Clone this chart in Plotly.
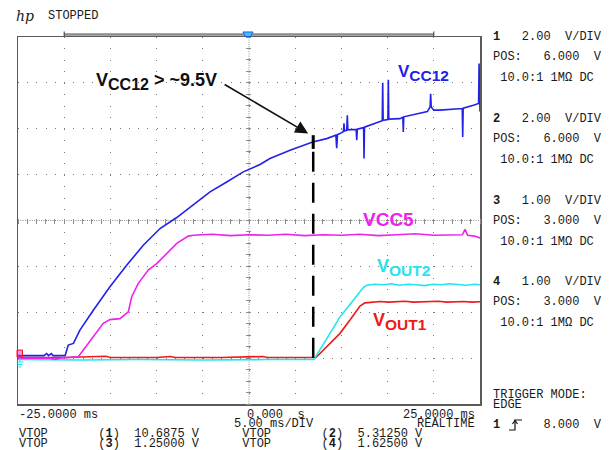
import plotly.graph_objects as go

# ---------------- data (time in ms, values in volts) ----------------
# Channel 1 : VCC12  (2 V/div, POS 6 V)
vcc12_t = [-25.0, -22.2, -21.9, -21.7, -21.4, -21.2, -20.8, -19.9, -19.56, -19.0,
           -18.3, -16.85, -15.05, -13.24, -11.44, -9.63, -7.82, -6.03, -4.22, -2.41,
           -0.62, 1.19, 2.27, 4.44, 6.89, 8.41, 9.40, 9.49, 9.58, 9.85,
           10.22, 10.28, 10.34, 10.58, 10.64, 10.70, 11.20, 11.60, 11.66, 11.72,
           12.40, 12.45, 12.50, 13.45, 14.42, 14.47, 14.52, 15.03, 15.08, 15.13,
           16.34, 16.65, 16.70, 16.75, 18.51, 19.30, 19.60, 19.66, 19.72, 20.00,
           20.67, 22.48, 23.08, 23.13, 23.18, 24.28, 24.85, 24.90, 25.0]
vcc12_v = [0.11, 0.11, 0.2, 0.11, 0.2, 0.11, 0.11, 0.11, 0.57, 0.64,
           1.22, 2.09, 3.11, 4.05, 4.92, 5.65, 6.13, 6.67, 7.25, 7.68,
           8.12, 8.44, 8.70, 9.06, 9.42, 9.57, 9.72, 9.15, 9.75, 9.79,
           9.88, 10.24, 9.90, 9.93, 10.59, 9.95, 9.95, 9.97, 9.50, 9.98,
           10.05, 8.70, 10.07, 10.20, 10.35, 12.0, 10.37, 10.40, 12.14, 10.42,
           10.44, 10.50, 9.86, 10.52, 10.69, 10.75, 10.95, 11.53, 10.95, 10.81,
           10.81, 10.84, 10.88, 9.64, 10.90, 11.02, 11.10, 12.84, 10.75]

# Channel 3 : VCC5  (1 V/div, POS 3 V)
vcc5_t = [-25.0, -21.5, -21.0, -20.5, -18.47, -16.85, -15.77, -15.05, -13.96, -13.06,
          -12.69, -11.98, -10.90, -9.99, -8.91, -7.82, -6.57, -6.03, -4.0, -2.0,
          0.0, 2.0, 4.0, 6.0, 8.0, 10.0, 12.0, 14.0, 16.0, 18.0,
          20.0, 22.0, 23.1, 23.38, 23.65, 24.4, 25.0]
vcc5_v = [0.0, 0.0, -0.03, 0.0, 0.03, 0.46, 0.76, 0.84, 0.86, 1.01,
          1.34, 1.63, 1.92, 2.06, 2.28, 2.50, 2.66, 2.68, 2.70, 2.67,
          2.69, 2.68, 2.70, 2.67, 2.69, 2.68, 2.70, 2.67, 2.69, 2.71,
          2.68, 2.69, 2.69, 2.81, 2.68, 2.66, 2.62]

# Channel 4 : VOUT2  (1 V/div, POS 3 V)
vout2_t = [-25.0, -18.0, -12.0, -5.0, 2.0, 7.03, 8.77, 9.85, 11.29, 12.37,
           12.74, 13.6, 14.5, 15.4, 16.3, 17.2, 18.1, 19.0, 19.9, 20.8,
           21.7, 22.6, 23.5, 24.4, 25.0]
vout2_v = [-0.03, -0.04, -0.03, -0.04, -0.03, -0.03, 0.54, 0.90, 1.26, 1.54,
           1.59, 1.61, 1.60, 1.62, 1.59, 1.61, 1.60, 1.58, 1.61, 1.60,
           1.62, 1.60, 1.59, 1.61, 1.60]

# Channel 2 : VOUT1  (2 V/div, POS 6 V)
vout1_t = [-25.0, -20.0, -15.5, -15.0, -10.0, -8.5, -8.0, -3.0, 1.5, 2.0,
           7.25, 9.85, 10.93, 12.01, 12.55, 13.3, 14.2, 15.1, 16.0, 16.9,
           17.8, 18.7, 19.6, 20.5, 21.4, 22.3, 23.2, 24.1, 25.0]
vout1_v = [0.03, 0.03, 0.08, 0.03, 0.03, 0.07, 0.03, 0.03, 0.07, 0.03,
           0.03, 1.08, 1.66, 2.27, 2.41, 2.45, 2.47, 2.44, 2.46, 2.48,
           2.44, 2.46, 2.45, 2.48, 2.44, 2.46, 2.47, 2.44, 2.46]

# marker / annotation values
marker_t = 6.95          # ms, dashed marker line
marker_v = 9.5           # V, "VCC12 > ~9.5V"

# scope settings (text)
ch_scale = ["2.00", "2.00", "1.00", "1.00"]
ch_pos = ["6.000", "6.000", "3.000", "3.000"]
vtop = ["10.6875", "5.31250", "1.25000", "1.62500"]
time_left, time_center, time_right = "-25.0000 ms", "0.000  s", "25.0000 ms"
timebase = "5.00 ms/DIV"
trig_level = "8.000"

# ---------------- layout helpers ----------------
W, H = 611, 450
L, R, T, B = 18, 480, 37, 404


def px(x):
    return (x - L) / (R - L)


def py(y):
    return (B - y) / (B - T)


NB = "\u00a0"


def sp(s):
    return s.replace(" ", NB)


BLUE = "#2222e6"
MAG = "#ee22ee"
CYAN = "#22e4ee"
RED = "#f01818"
MONO = "Liberation Mono, DejaVu Sans Mono, monospace"
SANS = "Liberation Sans, Arial, sans-serif"

fig = go.Figure()

fig.add_trace(go.Scatter(x=vout1_t, y=vout1_v, mode="lines", line=dict(color=RED, width=1.6),
                         xaxis="x", yaxis="y", showlegend=False, hoverinfo="skip"))
fig.add_trace(go.Scatter(x=vout2_t, y=vout2_v, mode="lines", line=dict(color=CYAN, width=1.6),
                         xaxis="x", yaxis="y2", showlegend=False, hoverinfo="skip"))
fig.add_trace(go.Scatter(x=vcc5_t, y=vcc5_v, mode="lines", line=dict(color=MAG, width=1.6),
                         xaxis="x", yaxis="y2", showlegend=False, hoverinfo="skip"))
fig.add_trace(go.Scatter(x=vcc12_t, y=vcc12_v, mode="lines", line=dict(color=BLUE, width=1.6),
                         xaxis="x", yaxis="y", showlegend=False, hoverinfo="skip"))
# empty trace so that the centre tick axes get drawn
fig.add_trace(go.Scatter(x=[], y=[], xaxis="x3", yaxis="y3", showlegend=False, hoverinfo="skip"))

shapes = []
# centre cross, fine dotted
shapes.append(dict(type="line", xref="x", yref="y", x0=-25, x1=25, y0=6, y1=6, layer="below",
                   line=dict(color="#8c8c8c", width=1, dash="1px,1.3px")))
shapes.append(dict(type="line", xref="x", yref="y", x0=0, x1=0, y0=-2, y1=14, layer="below",
                   line=dict(color="#8c8c8c", width=1, dash="1px,1.3px")))
# time-base bar on top
shapes.append(dict(type="line", xref="x", yref="paper", x0=-20, x1=20, y0=py(34.5), y1=py(34.5),
                   line=dict(color="#8a8a8a", width=2.5)))
for xe in (-20, 20):
    shapes.append(dict(type="line", xref="x", yref="paper", x0=xe, x1=xe, y0=py(31.5), y1=py(36),
                       line=dict(color="#333", width=1)))
# trigger marker on the bar
tm = [(243, 32), (253, 32), (250.5, 36.5), (245.5, 36.5)]
shapes.append(dict(type="path", xref="paper", yref="paper",
                   path="M" + " L".join(f"{px(a):.5f},{py(b):.5f}" for a, b in tm) + " Z",
                   fillcolor="#33ccff", line=dict(color="#2255ee", width=1)))
# dashed marker line and black tick
shapes.append(dict(type="line", xref="x", yref="y", x0=marker_t, x1=marker_t, y0=9.0, y1=-0.3,
                   line=dict(color="black", width=2.5, dash="20px,11px")))
shapes.append(dict(type="line", xref="x", yref="y", x0=marker_t, x1=marker_t, y0=9.12, y1=9.72,
                   line=dict(color="black", width=3)))
# ground markers on the left edge
shapes.append(dict(type="rect", xref="paper", yref="paper", x0=px(17), x1=px(22.5), y0=py(357), y1=py(350),
                   line=dict(color=RED, width=1), fillcolor="rgba(238,34,238,0.5)"))
shapes.append(dict(type="line", xref="paper", yref="paper", x0=px(20), x1=px(20), y0=py(358), y1=py(362),
                   line=dict(color=CYAN, width=1)))
for yy, a, b in ((362, 16.5, 23.5), (364.5, 17.5, 22.5), (367, 18.5, 21.5)):
    shapes.append(dict(type="line", xref="paper", yref="paper", x0=px(a), x1=px(b), y0=py(yy), y1=py(yy),
                       line=dict(color=CYAN, width=1)))
# trigger slope symbol
trig = [(509, 430), (515, 430), (515, 420), (522, 420)]
shapes.append(dict(type="path", xref="paper", yref="paper",
                   path="M" + " L".join(f"{px(a):.5f},{py(b):.5f}" for a, b in trig),
                   line=dict(color="#111", width=1.2)))
shapes.append(dict(type="path", xref="paper", yref="paper",
                   path=f"M{px(512.5):.5f},{py(424):.5f} L{px(515):.5f},{py(420.5):.5f} L{px(517.5):.5f},{py(424):.5f}",
                   line=dict(color="#111", width=1.2)))

ann = []


def text(x, y, s, size=12, family=MONO, color="#1a1a1a", xanchor="left", yanchor="middle"):
    ann.append(dict(x=px(x), y=py(y), xref="paper", yref="paper", text=s, showarrow=False,
                    xanchor=xanchor, yanchor=yanchor, borderpad=0,
                    font=dict(family=family, size=size, color=color)))


# header
text(15, 16, "<i>hp</i>", size=14, family="DejaVu Serif, serif")
text(47, 16, "STOPPED")

# right panel
gy = [37, 119, 201, 282]
for i in range(4):
    y0 = gy[i]
    text(492, y0, f"<b>{i + 1}</b>" + sp(f"   {ch_scale[i]}  V/DIV"))
    text(492, y0 + 20, sp(f"POS:   {ch_pos[i]}  V"))
    text(492, y0 + 41, sp(" 10.0:1 1MΩ DC"))
text(492, 395, sp("TRIGGER MODE:"))
text(492, 405, "EDGE")
text(492, 425, "<b>1</b>" + sp(f"      {trig_level}  V"))

# bottom texts
text(18, 415, sp(time_left))
text(246, 415, sp(time_center))
text(476, 415, sp(time_right), xanchor="right")
text(233, 424, sp(timebase))
text(476, 424, "REALTIME", xanchor="right")
text(18, 434, sp("VTOP       (") + "<b>1</b>" + sp(f")  {vtop[0]} V      VTOP       (") + "<b>2</b>" + sp(f")  {vtop[1]} V"))
text(18, 444, sp("VTOP       (") + "<b>3</b>" + sp(f")  {vtop[2]} V      VTOP       (") + "<b>4</b>" + sp(f")  {vtop[3]} V"))

# trace labels
SUB = "<sub><span style='font-size:{}px'>{}</span></sub>"
text(95, 81, "<b>V" + SUB.format(16, "CC12") + " &gt; ~9.5V</b>", size=18, family=SANS, color="#111")
text(397, 73, "<b>V" + SUB.format(15.5, "CC12") + "</b>", size=17, family=SANS, color=BLUE)
text(362, 219, "<b>VCC5</b>", size=19, family=SANS, color=MAG)
text(376, 267, "<b>V" + SUB.format(15.5, "OUT2") + "</b>", size=18, family=SANS, color=CYAN)
text(372, 321, "<b>V" + SUB.format(15.5, "OUT1") + "</b>", size=18, family=SANS, color=RED)

# arrow
ann.append(dict(x=6.4, y=9.79, xref="x", yref="y", ax=-2.8, ay=11.97, axref="x", ayref="y",
                text="", showarrow=True, arrowhead=2, arrowsize=1.6, arrowwidth=1.6,
                arrowcolor="#111", standoff=0))

fig.update_layout(
    width=W, height=H,
    margin=dict(l=L, r=W - R, t=T, b=H - B, pad=0),
    paper_bgcolor="white", plot_bgcolor="white",
    showlegend=False,
    xaxis=dict(range=[-25, 25], tick0=-25, dtick=5, showgrid=True, gridcolor="#7a7a7a", gridwidth=1,
               griddash="1px,10.47px", showticklabels=False, ticks="", zeroline=False,
               showline=True, mirror=True, linecolor="#5a5a5a", linewidth=1.5, fixedrange=True),
    yaxis=dict(range=[-2, 14], tick0=-2, dtick=2, showgrid=True, gridcolor="#7a7a7a", gridwidth=1,
               griddash="1px,8.24px", showticklabels=False, ticks="", zeroline=False,
               showline=True, mirror=True, linecolor="#5a5a5a", linewidth=1.5, fixedrange=True),
    yaxis2=dict(range=[-1, 7], overlaying="y", visible=False, fixedrange=True),
    xaxis3=dict(range=[-25, 25], overlaying="x", anchor="free", position=py(218), side="bottom",
                tick0=0, dtick=1, ticks="outside", ticklen=5, tickwidth=1, tickcolor="#8c8c8c",
                showticklabels=False, showgrid=False, zeroline=False, showline=False, fixedrange=True),
    yaxis3=dict(range=[-2, 14], overlaying="y", anchor="free", position=px(251), side="left",
                tick0=0, dtick=0.5, ticks="outside", ticklen=5, tickwidth=1, tickcolor="#8c8c8c",
                showticklabels=False, showgrid=False, zeroline=False, showline=False, fixedrange=True),
    shapes=shapes,
    annotations=ann,
)

fig.write_html("out.html", config={"displayModeBar": False, "staticPlot": True},
               post_script="document.body.style.margin='0px';document.body.style.overflow='hidden';")
